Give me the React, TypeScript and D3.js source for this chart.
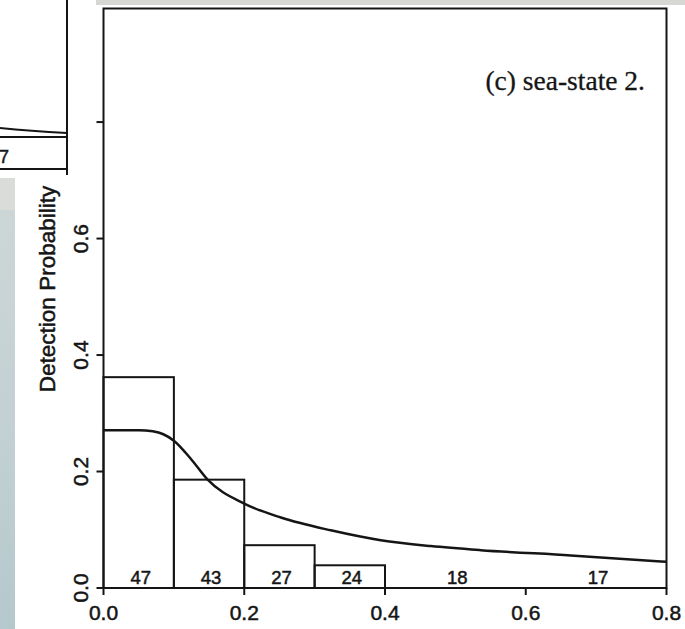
import React from "react";
import * as d3 from "d3";

// ---- data ----
const binEdges = [0, 0.1, 0.2, 0.3, 0.4, 0.6, 0.8];
const binHeights = [0.362, 0.186, 0.0735, 0.039, 0, 0];
const binCounts = [47, 43, 27, 24, 18, 17];

const curveX = [0, 0.05, 0.07, 0.085, 0.1, 0.124, 0.148, 0.2, 0.252, 0.323, 0.394, 0.465, 0.536, 0.664, 0.8];
const curveY = [0.271, 0.271, 0.269, 0.264, 0.253, 0.222, 0.186, 0.145, 0.121, 0.099, 0.082, 0.072, 0.065, 0.056, 0.045];

const xTicks = [0, 0.2, 0.4, 0.6, 0.8];
const xTickLabels = ["0.0", "0.2", "0.4", "0.6", "0.8"];
const yTicks = [0, 0.2, 0.4, 0.6, 0.8];
const yTickLabels = ["0.0", "0.2", "0.4", "0.6", ""];

const yTitle = "Detection Probability";
const panelTitle = "(c) sea-state 2.";

export default function App() {
  const W = 685;
  const H = 629;
  const x = d3.scaleLinear().domain([0, 0.8]).range([103.5, 666.5]);
  const y = d3.scaleLinear().domain([0, 0.995]).range([588, 8.5]);
  const ink = "#151515";
  const sans = "'Liberation Sans', Arial, Helvetica, sans-serif";
  const serif = "'Liberation Serif', 'Times New Roman', serif";
  const textStroke = { stroke: ink, strokeWidth: 0.5 };

  const line = d3
    .line<number>()
    .x((_, i) => x(curveX[i]))
    .y((d) => y(d))
    .curve(d3.curveMonotoneX);

  const [x0, x1] = x.range();
  const [yb, yt] = y.range();

  return (
    <svg
      width={W}
      height={H}
      viewBox={`0 0 ${W} ${H}`}
      style={{ position: "absolute", left: 0, top: 0, background: "#fff" }}
    >
      <defs>
        <linearGradient id="strip" x1="0" y1="0" x2="0" y2="1">
          <stop offset="0%" stopColor="#ccd6d6" />
          <stop offset="50%" stopColor="#c3d1d4" />
          <stop offset="100%" stopColor="#b5c8ce" />
        </linearGradient>
      </defs>
      <rect x={0} y={0} width={W} height={H} fill="#fff" />
      {/* scan background pieces */}
      <rect x={96} y={0} width={W - 96} height={5} fill="#d7d7d3" />
      <rect x={0} y={178} width={15} height={32} fill="#d9dcd9" />
      <rect x={0} y={210} width={15} height={H - 210} fill="url(#strip)" />

      {/* fragment of the neighbouring panel */}
      <g stroke={ink} strokeWidth={2} fill="none">
        <line x1={67} y1={0} x2={67} y2={175} />
        <line x1={0} y1={137} x2={67} y2={137} />
        <line x1={0} y1={169} x2={67} y2={169} />
        <path d="M0,128 Q30,131 67,133" />
      </g>
      <text x={9} y={163} textAnchor="end" fontFamily={sans} fontSize={18} fill={ink} {...textStroke}>
        7
      </text>

      {/* plot box */}
      <rect x={x0} y={yt} width={x1 - x0} height={yb - yt} fill="none" stroke={ink} strokeWidth={2} />

      {/* histogram bars */}
      <g stroke={ink} strokeWidth={2} fill="none">
        {binHeights.map((h, i) =>
          h > 0 ? (
            <rect
              key={i}
              x={x(binEdges[i])}
              y={y(h)}
              width={x(binEdges[i + 1]) - x(binEdges[i])}
              height={y(0) - y(h)}
            />
          ) : null
        )}
      </g>

      {/* counts */}
      <g fontFamily={sans} fontSize={18.5} fill={ink} textAnchor="middle" {...textStroke}>
        {binCounts.map((c, i) => (
          <text key={i} x={x((binEdges[i] + binEdges[i + 1]) / 2) + 2} y={584}>
            {c}
          </text>
        ))}
      </g>

      {/* fitted curve */}
      <path d={line(curveY) || ""} fill="none" stroke={ink} strokeWidth={2.5} />

      {/* axis ticks */}
      <g stroke={ink} strokeWidth={2}>
        {xTicks.map((t, i) => (
          <line key={i} x1={x(t)} x2={x(t)} y1={yb} y2={yb + 7} />
        ))}
        {yTicks.map((t, i) => (
          <line key={i} x1={x0} x2={x0 - 7} y1={y(t)} y2={y(t)} />
        ))}
      </g>
      <g fontFamily={sans} fontSize={21} fill={ink} textAnchor="middle" {...textStroke}>
        {xTicks.map((t, i) => (
          <text key={i} x={x(t)} y={620}>
            {xTickLabels[i]}
          </text>
        ))}
        {yTicks.map((t, i) =>
          yTickLabels[i] ? (
            <text key={i} transform={`translate(88,${y(t)}) rotate(-90)`}>
              {yTickLabels[i]}
            </text>
          ) : null
        )}
      </g>

      {/* y title */}
      <text
        transform="translate(55,289) rotate(-90)"
        textAnchor="middle"
        fontFamily={sans}
        fontSize={22.5}
        fill={ink}
        {...textStroke}
      >
        {yTitle}
      </text>

      {/* panel title */}
      <text x={645} y={90} textAnchor="end" fontFamily={serif} fontSize={27.5} fill={ink} stroke={ink} strokeWidth={0.3}>
        {panelTitle}
      </text>
    </svg>
  );
}
